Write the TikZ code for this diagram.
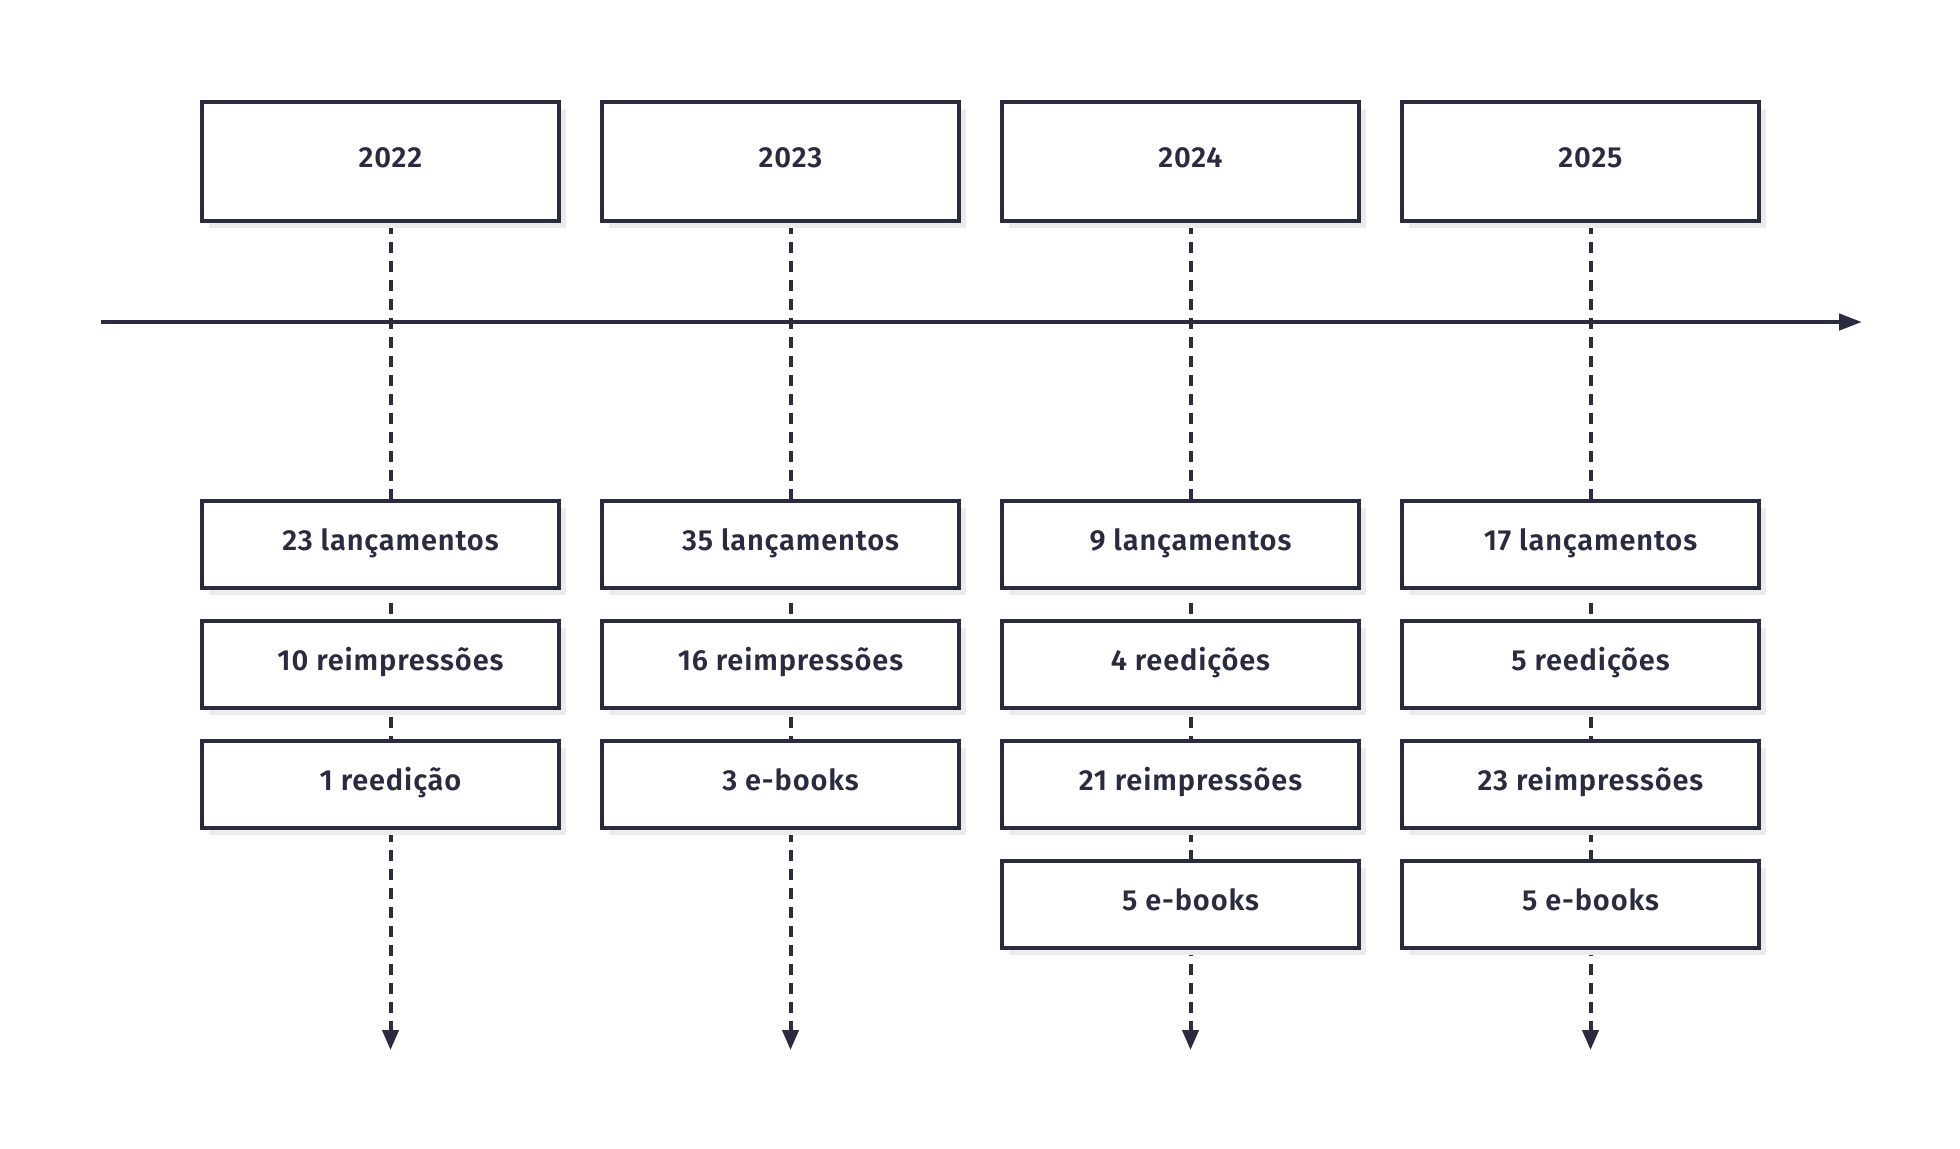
\documentclass[tikz,border=0pt]{standalone}
\usepackage{fontspec}
\setmainfont{Fira Sans}[BoldFont={Fira Sans SemiBold}, BoldFeatures={LetterSpace=3}]
\usetikzlibrary{arrows.meta,shadows}
\definecolor{ink}{HTML}{2B2A40}
\definecolor{shade}{HTML}{EBEBEB}
\pgfdeclarelayer{bg}
\pgfsetlayers{bg,main}
\begin{document}
\begin{tikzpicture}[x=0.5pt,y=-0.5pt,
  font=\fontsize{14.5}{17}\selectfont\bfseries,
  box/.style={draw=ink, line width=1.8pt, fill=white, text=ink, inner sep=0pt,
    text height=9.5pt, text depth=3.5pt,
    general shadow={fill=shade, shadow xshift=3.5pt, shadow yshift=-3.5pt}},
  yearbox/.style={box, minimum width=178.7pt, minimum height=59.7pt},
  evbox/.style={box, minimum width=178.7pt, minimum height=43.7pt},
  guide/.style={draw=ink, line width=2pt, dash pattern=on 5.5pt off 4pt,
    -{Triangle[length=10pt,width=8pt]}},
  axis/.style={draw=ink, line width=2.2pt, -{Triangle[length=11.5pt,width=8pt]}}]
\useasboundingbox (0,0) rectangle (1960,1148);

% year boxes
\node[yearbox] (y22) at (380.5,161.5) {\hspace*{10pt}2022};
\node[yearbox] (y23) at (780.5,161.5) {\hspace*{10pt}2023};
\node[yearbox] (y24) at (1180.5,161.5) {\hspace*{10pt}2024};
\node[yearbox] (y25) at (1580.5,161.5) {\hspace*{10pt}2025};

% 2022
\node[evbox] (a22) at (380.5,544.5) {\hspace*{10pt}23 lançamentos};
\node[evbox] (b22) at (380.5,664.5) {\hspace*{10pt}10 reimpressões};
\node[evbox] (c22) at (380.5,784.5) {\hspace*{10pt}1 reedição};
% 2023
\node[evbox] (a23) at (780.5,544.5) {\hspace*{10pt}35 lançamentos};
\node[evbox] (b23) at (780.5,664.5) {\hspace*{10pt}16 reimpressões};
\node[evbox] (c23) at (780.5,784.5) {\hspace*{10pt}3 e-books};
% 2024
\node[evbox] (a24) at (1180.5,544.5) {\hspace*{10pt}9 lançamentos};
\node[evbox] (b24) at (1180.5,664.5) {\hspace*{10pt}4 reedições};
\node[evbox] (c24) at (1180.5,784.5) {\hspace*{10pt}21 reimpressões};
\node[evbox] (d24) at (1180.5,904.5) {\hspace*{10pt}5 e-books};
% 2025
\node[evbox] (a25) at (1580.5,544.5) {\hspace*{10pt}17 lançamentos};
\node[evbox] (b25) at (1580.5,664.5) {\hspace*{10pt}5 reedições};
\node[evbox] (c25) at (1580.5,784.5) {\hspace*{10pt}23 reimpressões};
\node[evbox] (d25) at (1580.5,904.5) {\hspace*{10pt}5 e-books};

\coordinate (e22) at (390.5,1050);
\coordinate (e23) at (790.5,1050);
\coordinate (e24) at (1190.5,1050);
\coordinate (e25) at (1590.5,1050);
\coordinate (tl0) at (101,322);
\coordinate (tl1) at (1862,322);

\begin{pgfonlayer}{bg}
  \draw[guide] ([xshift=5pt]y22.south) -- (e22);
  \draw[guide] ([xshift=5pt]y23.south) -- (e23);
  \draw[guide] ([xshift=5pt]y24.south) -- (e24);
  \draw[guide] ([xshift=5pt]y25.south) -- (e25);
\end{pgfonlayer}
\draw[axis] (tl0) -- (tl1);
\end{tikzpicture}
\end{document}
